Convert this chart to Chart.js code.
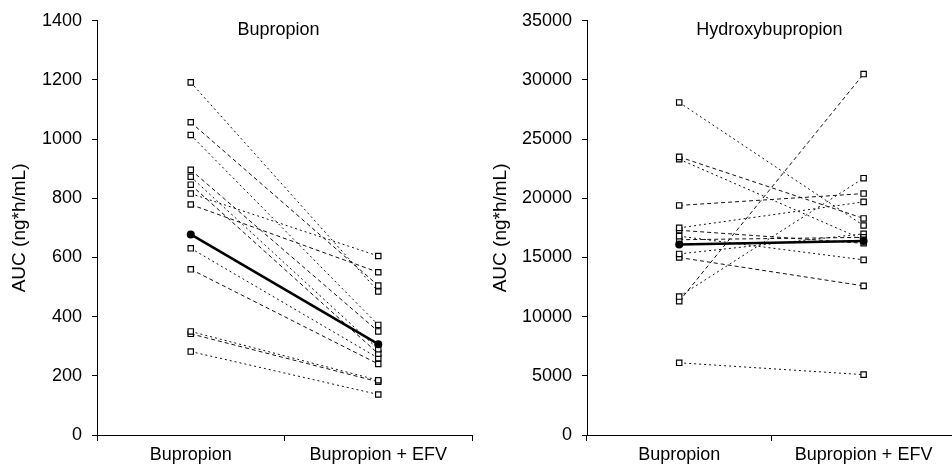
<!DOCTYPE html>
<html>
<head>
<meta charset="utf-8">
<script src="https://cdn.jsdelivr.net/npm/chart.js@4.4.1/dist/chart.umd.min.js"></script>
<style>
  html, body { margin: 0; padding: 0; background: #fff; overflow: hidden; }
  #wrap { position: relative; width: 952px; height: 472px; overflow: hidden; }
  #c1 { position: absolute; left: 0; top: 0; }
  #c2 { position: absolute; left: 481px; top: 0; }
</style>
</head>
<body>
<div id="wrap">
  <canvas id="c1" width="481" height="472"></canvas>
  <canvas id="c2" width="480" height="472"></canvas>
</div>
<script>
// ---- data ----
const categories = ['Bupropion', 'Bupropion + EFV'];
const titles = ['Bupropion', 'Hydroxybupropion'];
const yTitle = 'AUC (ng*h/mL)';

const bupBaseline = [1192, 1057, 1014, 896, 873, 846, 816, 779, 631, 560, 350, 342, 282];
const bupEfv      = [485, 505, 372, 350, 290, 275, 605, 550, 260, 240, 185, 180, 137];
const bupMean     = [678, 307];

const hydBaseline = [28100, 23500, 23300, 19400, 17500, 17300, 16800, 16500, 15300, 15000, 11700, 11300, 6100];
const hydEfv      = [17700, 18300, 16500, 20400, 19700, 16200, 14800, 16700, 17000, 12600, 21700, 30500, 5100];
const hydMean     = [16100, 16400];

const bupAxis = { min: 0, max: 1400, step: 200 };
const hydAxis = { min: 0, max: 35000, step: 5000 };

const FONT = 'Liberation Sans, Arial, sans-serif';
const dashes = [[2, 3], [4, 3]];

function buildDatasets(base, efv, mean) {
  const ds = [{
    data: mean,
    borderColor: '#000',
    backgroundColor: '#000',
    borderWidth: 2.5,
    pointStyle: 'circle',
    pointRadius: 4,
    pointBorderWidth: 0,
    pointBackgroundColor: '#000'
  }];
  base.forEach((b, i) => {
    ds.push({
      data: [b, efv[i]],
      borderColor: '#111',
      borderWidth: 1,
      borderDash: dashes[i % 2],
      pointStyle: 'rect',
      pointRadius: 3.8,
      pointBorderWidth: 1.2,
      pointBorderColor: '#000',
      pointBackgroundColor: '#fff'
    });
  });
  return ds;
}

const titlePlugin = {
  id: 'panelTitle',
  afterDraw(chart, args, opts) {
    const { ctx, chartArea } = chart;
    ctx.save();
    ctx.font = '18px ' + FONT;
    ctx.fillStyle = '#000';
    ctx.textAlign = 'center';
    ctx.textBaseline = 'middle';
    ctx.fillText(opts.text, (chartArea.left + chartArea.right) / 2 + opts.dx, chartArea.top + 9);
    ctx.restore();
  }
};

function makeChart(id, title, base, efv, mean, axis, yWidth, padRight, titleDx) {
  return new Chart(document.getElementById(id), {
    type: 'line',
    data: { labels: categories, datasets: buildDatasets(base, efv, mean) },
    plugins: [titlePlugin],
    options: {
      responsive: false,
      animation: false,
      events: [],
      layout: { padding: { top: 18, right: padRight, left: 0, bottom: 0 } },
      plugins: {
        legend: { display: false },
        tooltip: { enabled: false },
        panelTitle: { text: title, dx: titleDx }
      },
      scales: {
        x: {
          type: 'category',
          offset: true,
          grid: { display: true, offset: true, drawOnChartArea: false, drawTicks: true, tickLength: 6, color: '#000', lineWidth: 1 },
          border: { display: true, color: '#000', width: 1 },
          ticks: { color: '#000', font: { family: FONT, size: 18 }, padding: 3, maxRotation: 0 },
          afterFit(scale) { scale.height = 37; }
        },
        y: {
          min: axis.min,
          max: axis.max,
          grid: { display: true, drawOnChartArea: false, drawTicks: true, tickLength: 5, color: '#000', lineWidth: 1 },
          border: { display: true, color: '#000', width: 1 },
          ticks: { stepSize: axis.step, color: '#000', font: { family: FONT, size: 18 }, padding: 10,
                   callback: (v) => String(v) },
          title: { display: true, text: yTitle, color: '#000', font: { family: FONT, size: 19 }, padding: { top: 8, bottom: 0 } },
          afterFit(scale) { scale.width = yWidth; }
        }
      }
    }
  });
}

makeChart('c1', titles[0], bupBaseline, bupEfv, bupMean, bupAxis, 97, 9, -6);
makeChart('c2', titles[1], hydBaseline, hydEfv, hydMean, hydAxis, 106, 4, -2);
</script>
</body>
</html>
